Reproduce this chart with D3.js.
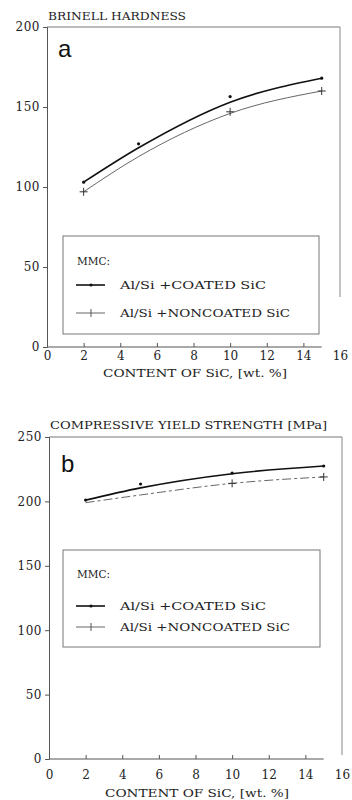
<!DOCTYPE html>
<html>
<head>
<meta charset="utf-8">
<script src="https://cdn.jsdelivr.net/npm/d3@7/dist/d3.min.js"></script>
<style>
  body { margin: 0; background: #fff; }
  svg { display: block; }
  text { font-family: "DejaVu Serif", "Liberation Serif", serif; fill: #222; }
</style>
</head>
<body>
<svg id="chart" width="352" height="800"></svg>
<script>
// ---- data ----
const xTicks = [0, 2, 4, 6, 8, 10, 12, 14, 16];
const xTitle = "CONTENT OF SiC, [wt. %]";
const legendHead = "MMC:";
const seriesNames = ["Al/Si +COATED SiC", "Al/Si +NONCOATED SiC"];

// panel a - Brinell hardness
const hardTitle = "BRINELL HARDNESS";
const hardTicks = [0, 50, 100, 150, 200];
const hardFitX = [2, 5, 10, 15];
const hardCoatedFit = [103, 124.5, 153, 168];
const hardNonFit = [97, 119, 146, 160];
const hardCoatedX = [2, 5, 10, 15];
const hardCoatedPts = [103, 127, 156.5, 168];
const hardNonX = [2, 10, 15];
const hardNonPts = [97, 147, 160];

// panel b - compressive yield strength
const yieldTitle = "COMPRESSIVE YIELD STRENGTH [MPa]";
const yieldTicks = [0, 50, 100, 150, 200, 250];
const yieldFitX = [2, 5, 10, 15];
const yieldCoatedFit = [201, 210.5, 221.5, 227.5];
const yieldNonFit = [199, 205, 214, 219];
const yieldCoatedX = [2, 5, 10, 15];
const yieldCoatedPts = [201, 213.5, 222, 227.5];
const yieldNonX = [10, 15];
const yieldNonPts = [214, 219];

const svg = d3.select("#chart");
const SERIF = "'DejaVu Serif', 'Liberation Serif', serif";

const panels = [
  {
    letter: "a", title: hardTitle, yMax: 200, yTicks: hardTicks,
    x0: 47, x1: 340, yTop: 27, yBot: 347, frameRightEnd: 297,
    titleY: 20, titleW: 138, tickLabelDy: 13, xTitleY: 377,
    letterX: 58, letterY: 57,
    fitX: hardFitX, coatedFit: hardCoatedFit, nonFit: hardNonFit,
    coatedX: hardCoatedX, coatedPts: hardCoatedPts, nonX: hardNonX, nonPts: hardNonPts,
    nonDash: null,
    legend: { x: 63, y: 236, w: 256, h: 98, head: 265, l1: 285, l2: 313 }
  },
  {
    letter: "b", title: yieldTitle, yMax: 250, yTicks: yieldTicks,
    x0: 49, x1: 342, yTop: 437, yBot: 759, frameRightEnd: 755,
    titleY: 429, titleW: 277, tickLabelDy: 20, xTitleY: 797,
    letterX: 61, letterY: 472,
    fitX: yieldFitX, coatedFit: yieldCoatedFit, nonFit: yieldNonFit,
    coatedX: yieldCoatedX, coatedPts: yieldCoatedPts, nonX: yieldNonX, nonPts: yieldNonPts,
    nonDash: "9,3,3,3",
    legend: { x: 63, y: 550, w: 257, h: 97, head: 578, l1: 606, l2: 627 }
  }
];

panels.forEach(drawPanel);

function drawPanel(p) {
  const g = svg.append("g");
  const x = d3.scaleLinear().domain([0, 16]).range([p.x0, p.x1]);
  const y = d3.scaleLinear().domain([0, p.yMax]).range([p.yBot, p.yTop]);

  // frame: top and right lines (plot box of the original)
  g.append("line")
    .attr("x1", x(0)).attr("x2", x(16))
    .attr("y1", y(p.yMax)).attr("y2", y(p.yMax))
    .attr("stroke", "#777").attr("stroke-width", 1);
  g.append("line")
    .attr("x1", x(16)).attr("x2", x(16))
    .attr("y1", y(p.yMax)).attr("y2", p.frameRightEnd)
    .attr("stroke", "#888").attr("stroke-width", 1);

  // y axis
  const yAxis = d3.axisLeft(y).tickValues(p.yTicks).tickSize(4).tickPadding(3);
  const ya = g.append("g").attr("transform", `translate(${x(0)},0)`).call(yAxis)
    .attr("font-family", SERIF).attr("font-size", 12);
  ya.select(".domain").attr("stroke", "#555");
  ya.selectAll(".tick line").attr("stroke", "#555");
  ya.selectAll(".tick text").attr("fill", "#222").attr("letter-spacing", 0.5);

  // x axis: line to 15, inward ticks
  const xAxis = d3.axisBottom(x).tickValues(xTicks).tickSizeInner(-4).tickSizeOuter(0).tickPadding(0);
  const xa = g.append("g").attr("transform", `translate(0,${y(0)})`).call(xAxis)
    .attr("font-family", SERIF).attr("font-size", 12);
  xa.select(".domain").remove();
  xa.selectAll(".tick line")
    .attr("stroke", "#555")
    .attr("display", d => (d === 0 || d === 16) ? "none" : null);
  xa.selectAll(".tick text")
    .attr("y", p.tickLabelDy).attr("dy", 0).attr("fill", "#222");
  g.append("line")
    .attr("x1", x(0)).attr("x2", x(15))
    .attr("y1", y(0)).attr("y2", y(0))
    .attr("stroke", "#555").attr("stroke-width", 1);

  // titles
  g.append("text").attr("x", x(0) + 1).attr("y", p.titleY)
    .attr("textLength", p.titleW).attr("lengthAdjust", "spacingAndGlyphs")
    .style("font-size", "10.5px").text(p.title);
  g.append("text").attr("x", x(0) + 56).attr("y", p.xTitleY)
    .attr("textLength", 184).attr("lengthAdjust", "spacingAndGlyphs")
    .style("font-size", "10.5px").text(xTitle);
  g.append("text").attr("x", p.letterX).attr("y", p.letterY)
    .style("font-family", "'Liberation Sans', Arial, sans-serif")
    .style("font-size", "24px").style("fill", "#111").text(p.letter);

  // curves
  const line = d3.line().x(d => x(d[0])).y(d => y(d[1])).curve(d3.curveMonotoneX);
  g.append("path")
    .datum(d3.zip(p.fitX, p.nonFit))
    .attr("d", line).attr("fill", "none")
    .attr("stroke", "#666").attr("stroke-width", 1)
    .attr("stroke-dasharray", p.nonDash);
  g.append("path")
    .datum(d3.zip(p.fitX, p.coatedFit))
    .attr("d", line).attr("fill", "none")
    .attr("stroke", "#111").attr("stroke-width", 1.6);

  // measured points
  g.selectAll(".dot").data(d3.zip(p.coatedX, p.coatedPts)).join("circle")
    .attr("cx", d => x(d[0])).attr("cy", d => y(d[1])).attr("r", 1.6).attr("fill", "#111");
  g.selectAll(".plus").data(d3.zip(p.nonX, p.nonPts)).join("path")
    .attr("transform", d => `translate(${x(d[0])},${y(d[1])})`)
    .attr("d", "M-4,0H4M0,-4V4")
    .attr("fill", "none").attr("stroke", "#333").attr("stroke-width", 1);

  // legend box
  const L = p.legend;
  g.append("rect").attr("x", L.x).attr("y", L.y).attr("width", L.w).attr("height", L.h)
    .attr("fill", "#fff").attr("stroke", "#777").attr("stroke-width", 1);
  g.append("text").attr("x", L.x + 14).attr("y", L.head)
    .attr("textLength", 33).attr("lengthAdjust", "spacingAndGlyphs")
    .style("font-size", "10.5px").text(legendHead);
  const rows = [
    { name: seriesNames[0], y: L.l1, stroke: "#111", w: 1.6, mark: "dot" },
    { name: seriesNames[1], y: L.l2, stroke: "#666", w: 1, mark: "plus" }
  ];
  rows.forEach(r => {
    g.append("line").attr("x1", L.x + 13).attr("x2", L.x + 42)
      .attr("y1", r.y).attr("y2", r.y).attr("stroke", r.stroke).attr("stroke-width", r.w);
    if (r.mark === "dot") {
      g.append("circle").attr("cx", L.x + 28).attr("cy", r.y).attr("r", 1.6).attr("fill", "#111");
    } else {
      g.append("path").attr("transform", `translate(${L.x + 28},${r.y})`)
        .attr("d", "M0,-4V4").attr("stroke", "#555").attr("stroke-width", 1);
    }
    g.append("text").attr("x", L.x + 57).attr("y", r.y + 4)
      .attr("textLength", r.mark === "dot" ? 146 : 170).attr("lengthAdjust", "spacingAndGlyphs")
      .style("font-size", "10.5px").text(r.name);
  });
}
</script>
</body>
</html>
